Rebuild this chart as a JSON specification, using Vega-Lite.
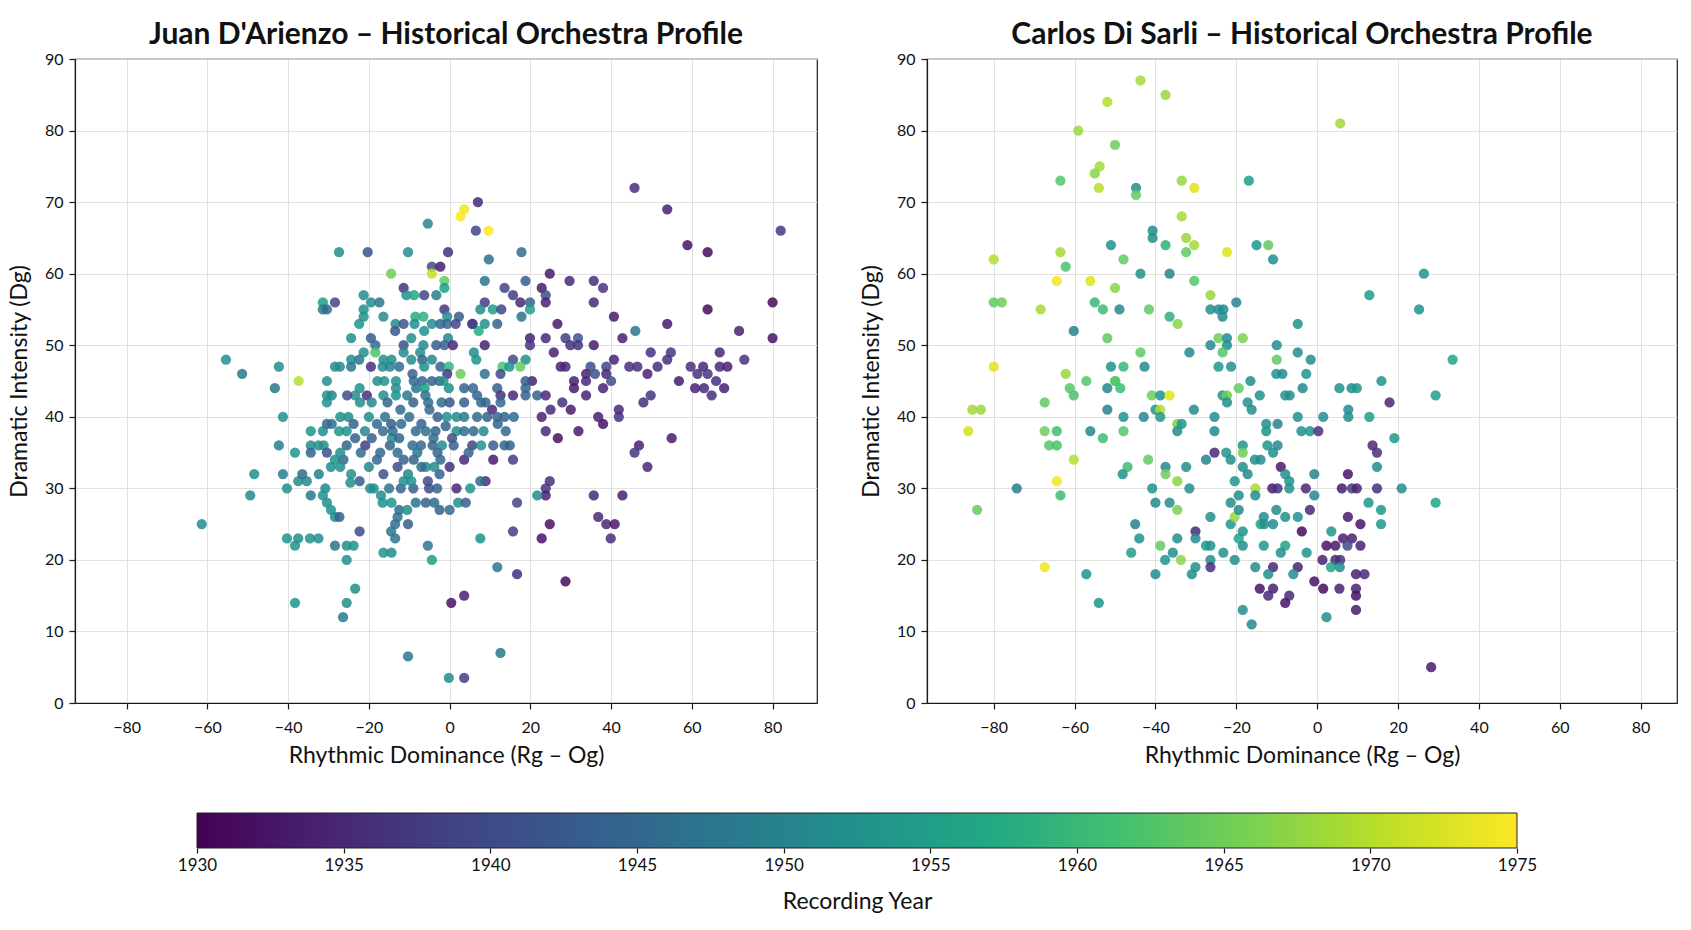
{
  "$schema": "https://vega.github.io/schema/vega-lite/v6.json",
  "background": "white",
  "padding": {"left": 7, "top": 19, "right": 5, "bottom": 5},
  "columns": 2,
  "bounds": "flush",
  "spacing": 110,
  "config": {
    "font": "Lato",
    "view": {"stroke": "#1a1a1a", "strokeWidth": 1.2},
    "axis": {
      "grid": true,
      "gridColor": "#dedede",
      "gridWidth": 0.9,
      "domainColor": "#1a1a1a",
      "domainWidth": 1.2,
      "tickColor": "#1a1a1a",
      "tickSize": 6,
      "tickWidth": 1.2,
      "labelFontSize": 16,
      "labelColor": "#111111",
      "labelPadding": 6,
      "titleFontSize": 23,
      "titleFontWeight": "normal",
      "titleColor": "#111111"
    },
    "axisY": {"titlePadding": 13},
    "axisX": {"titlePadding": 9, "labelPadding": 10},
    "title": {"fontSize": 30, "fontWeight": "bold", "color": "#111111", "offset": 1}
  },
  "datasets": {
    "dArienzo": [
      {"rg_og": 7, "dg": 70, "year": 1935}, {"rg_og": 3.6, "dg": 69, "year": 1974}, {"rg_og": 2.7, "dg": 68, "year": 1975},
      {"rg_og": -5.4, "dg": 67, "year": 1951}, {"rg_og": 6.5, "dg": 66, "year": 1939}, {"rg_og": 9.6, "dg": 66, "year": 1975},
      {"rg_og": -27.4, "dg": 63, "year": 1952}, {"rg_og": -20.3, "dg": 63, "year": 1942}, {"rg_og": -10.3, "dg": 63, "year": 1952},
      {"rg_og": -0.4, "dg": 63, "year": 1936}, {"rg_og": -4.4, "dg": 61, "year": 1940}, {"rg_og": -2.3, "dg": 61, "year": 1933},
      {"rg_og": -14.5, "dg": 60, "year": 1965}, {"rg_og": -4.4, "dg": 60, "year": 1971}, {"rg_og": -1.3, "dg": 59, "year": 1964},
      {"rg_og": -1.3, "dg": 58, "year": 1955}, {"rg_og": -11.4, "dg": 58, "year": 1936}, {"rg_og": -21.3, "dg": 57, "year": 1952},
      {"rg_og": -10.7, "dg": 57, "year": 1953}, {"rg_og": -8.8, "dg": 57, "year": 1957}, {"rg_og": -6.3, "dg": 57, "year": 1939},
      {"rg_og": -3.3, "dg": 57, "year": 1949}, {"rg_og": -31.4, "dg": 56, "year": 1955}, {"rg_og": -28.4, "dg": 56, "year": 1939},
      {"rg_og": -19.5, "dg": 56, "year": 1952}, {"rg_og": -17.4, "dg": 56, "year": 1947}, {"rg_og": -31.4, "dg": 55, "year": 1948},
      {"rg_og": -30.4, "dg": 55, "year": 1946}, {"rg_og": -21.3, "dg": 55, "year": 1952}, {"rg_og": -1.3, "dg": 55, "year": 1937},
      {"rg_og": -16.4, "dg": 54, "year": 1952}, {"rg_og": -21.3, "dg": 54, "year": 1953}, {"rg_og": -8.5, "dg": 54, "year": 1958},
      {"rg_og": -6.5, "dg": 54, "year": 1959}, {"rg_og": -0.6, "dg": 54, "year": 1951}, {"rg_og": 2.3, "dg": 54, "year": 1943},
      {"rg_og": -22.4, "dg": 53, "year": 1953}, {"rg_og": -13.4, "dg": 53, "year": 1951}, {"rg_og": -11.4, "dg": 53, "year": 1942},
      {"rg_og": -8.7, "dg": 53, "year": 1952}, {"rg_og": -4.4, "dg": 53, "year": 1952}, {"rg_og": -2.3, "dg": 53, "year": 1944},
      {"rg_og": -0.6, "dg": 53, "year": 1945}, {"rg_og": 1.5, "dg": 53, "year": 1939}, {"rg_og": 5.6, "dg": 53, "year": 1936},
      {"rg_og": 7.2, "dg": 52, "year": 1958}, {"rg_og": -13.5, "dg": 52, "year": 1942}, {"rg_og": -6.3, "dg": 52, "year": 1952},
      {"rg_og": -24.4, "dg": 51, "year": 1952}, {"rg_og": -19.5, "dg": 51, "year": 1943}, {"rg_og": -9.5, "dg": 51, "year": 1952},
      {"rg_og": -0.4, "dg": 51, "year": 1951}, {"rg_og": -18.4, "dg": 50, "year": 1946}, {"rg_og": -11.4, "dg": 50, "year": 1941},
      {"rg_og": -6.5, "dg": 50, "year": 1951}, {"rg_og": -3.3, "dg": 50, "year": 1943}, {"rg_og": -1.3, "dg": 50, "year": 1944},
      {"rg_og": 0.8, "dg": 50, "year": 1935}, {"rg_og": -21.3, "dg": 49, "year": 1952}, {"rg_og": -18.4, "dg": 49, "year": 1962},
      {"rg_og": -11.4, "dg": 49, "year": 1951}, {"rg_og": -7.3, "dg": 49, "year": 1952}, {"rg_og": 6, "dg": 49, "year": 1952},
      {"rg_og": -55.4, "dg": 48, "year": 1952}, {"rg_og": -24.4, "dg": 48, "year": 1952}, {"rg_og": -22.4, "dg": 48, "year": 1948},
      {"rg_og": -16.4, "dg": 48, "year": 1953}, {"rg_og": -14.4, "dg": 48, "year": 1952}, {"rg_og": -9.5, "dg": 48, "year": 1952},
      {"rg_og": -6.8, "dg": 48, "year": 1944}, {"rg_og": -4.4, "dg": 48, "year": 1951}, {"rg_og": 6.6, "dg": 48, "year": 1953},
      {"rg_og": -42.3, "dg": 47, "year": 1952}, {"rg_og": -51.4, "dg": 46, "year": 1948}, {"rg_og": -28.4, "dg": 47, "year": 1952},
      {"rg_og": -27.2, "dg": 47, "year": 1951}, {"rg_og": -24.4, "dg": 47, "year": 1948}, {"rg_og": -19.5, "dg": 47, "year": 1936},
      {"rg_og": -16.6, "dg": 47, "year": 1951}, {"rg_og": -14.8, "dg": 47, "year": 1950}, {"rg_og": -12.5, "dg": 47, "year": 1946},
      {"rg_og": -6.3, "dg": 47, "year": 1952}, {"rg_og": -2.3, "dg": 47, "year": 1944}, {"rg_og": -0.2, "dg": 47, "year": 1960},
      {"rg_og": 2.7, "dg": 46, "year": 1965}, {"rg_og": -0.6, "dg": 46, "year": 1937}, {"rg_og": -37.4, "dg": 45, "year": 1970},
      {"rg_og": -30.4, "dg": 45, "year": 1952}, {"rg_og": -43.3, "dg": 44, "year": 1948}, {"rg_og": -9.2, "dg": 46, "year": 1944},
      {"rg_og": -17.9, "dg": 45, "year": 1952}, {"rg_og": -16.2, "dg": 45, "year": 1953}, {"rg_og": -13.3, "dg": 45, "year": 1952},
      {"rg_og": -8.9, "dg": 45, "year": 1945}, {"rg_og": -6.8, "dg": 45, "year": 1944}, {"rg_og": -4.4, "dg": 45, "year": 1944},
      {"rg_og": -2.6, "dg": 45, "year": 1945}, {"rg_og": -20.5, "dg": 43, "year": 1936}, {"rg_og": -23.4, "dg": 43, "year": 1952},
      {"rg_og": -16.4, "dg": 43, "year": 1952}, {"rg_og": -13.3, "dg": 44, "year": 1952}, {"rg_og": -13.3, "dg": 43, "year": 1953},
      {"rg_og": -10.5, "dg": 43, "year": 1948}, {"rg_og": -8.3, "dg": 44, "year": 1947}, {"rg_og": -6.2, "dg": 44, "year": 1955},
      {"rg_og": -27.1, "dg": 40, "year": 1952}, {"rg_og": -25.1, "dg": 40, "year": 1951}, {"rg_og": -22.2, "dg": 42, "year": 1952},
      {"rg_og": -19.3, "dg": 42, "year": 1951}, {"rg_og": -15.4, "dg": 42, "year": 1944}, {"rg_og": -12.2, "dg": 41, "year": 1945},
      {"rg_og": -9, "dg": 42, "year": 1944}, {"rg_og": -5.3, "dg": 42, "year": 1945},
      {"rg_og": 45.8, "dg": 72, "year": 1936}, {"rg_og": 53.9, "dg": 69, "year": 1934}, {"rg_og": 82, "dg": 66, "year": 1937},
      {"rg_og": 58.9, "dg": 64, "year": 1932}, {"rg_og": 63.9, "dg": 63, "year": 1931}, {"rg_og": 9.7, "dg": 62, "year": 1947},
      {"rg_og": 17.8, "dg": 63, "year": 1946}, {"rg_og": 24.8, "dg": 60, "year": 1933}, {"rg_og": 29.7, "dg": 59, "year": 1935},
      {"rg_og": 35.7, "dg": 59, "year": 1936}, {"rg_og": 38, "dg": 58, "year": 1937}, {"rg_og": 8.7, "dg": 59, "year": 1948},
      {"rg_og": 18.8, "dg": 59, "year": 1943}, {"rg_og": 13.6, "dg": 58, "year": 1939}, {"rg_og": 22.8, "dg": 58, "year": 1933},
      {"rg_og": 15.7, "dg": 57, "year": 1938}, {"rg_og": 23.8, "dg": 57, "year": 1940}, {"rg_og": 17.5, "dg": 56, "year": 1935},
      {"rg_og": 19.9, "dg": 56, "year": 1944}, {"rg_og": 23.8, "dg": 56, "year": 1934}, {"rg_og": 35.7, "dg": 56, "year": 1935},
      {"rg_og": 8.7, "dg": 56, "year": 1938}, {"rg_og": 7.6, "dg": 55, "year": 1952}, {"rg_og": 10.7, "dg": 55, "year": 1955},
      {"rg_og": 12.8, "dg": 55, "year": 1939}, {"rg_og": 19.9, "dg": 55, "year": 1955}, {"rg_og": 63.9, "dg": 55, "year": 1931},
      {"rg_og": 80, "dg": 56, "year": 1931}, {"rg_og": 40.7, "dg": 54, "year": 1933}, {"rg_og": 17.8, "dg": 54, "year": 1947},
      {"rg_og": 5.7, "dg": 53, "year": 1939}, {"rg_og": 8.7, "dg": 53, "year": 1952}, {"rg_og": 11.8, "dg": 53, "year": 1944},
      {"rg_og": 26.7, "dg": 53, "year": 1933}, {"rg_og": 53.9, "dg": 53, "year": 1933}, {"rg_og": 46, "dg": 52, "year": 1948},
      {"rg_og": 71.7, "dg": 52, "year": 1934}, {"rg_og": 80, "dg": 51, "year": 1932}, {"rg_og": 19.9, "dg": 51, "year": 1934},
      {"rg_og": 23.8, "dg": 51, "year": 1935}, {"rg_og": 28.7, "dg": 51, "year": 1938}, {"rg_og": 31.8, "dg": 51, "year": 1942},
      {"rg_og": 42.8, "dg": 51, "year": 1934}, {"rg_og": 8.7, "dg": 50, "year": 1934}, {"rg_og": 19.9, "dg": 50, "year": 1937},
      {"rg_og": 29.9, "dg": 50, "year": 1936}, {"rg_og": 31.8, "dg": 50, "year": 1937}, {"rg_og": 35.7, "dg": 50, "year": 1933},
      {"rg_og": 25.8, "dg": 49, "year": 1934}, {"rg_og": 49.8, "dg": 49, "year": 1936}, {"rg_og": 54.8, "dg": 49, "year": 1937},
      {"rg_og": 66.9, "dg": 49, "year": 1935}, {"rg_og": 15.7, "dg": 48, "year": 1940}, {"rg_og": 18.8, "dg": 48, "year": 1953},
      {"rg_og": 40.7, "dg": 48, "year": 1934}, {"rg_og": 53.9, "dg": 48, "year": 1936}, {"rg_og": 73, "dg": 48, "year": 1936},
      {"rg_og": 13.1, "dg": 47, "year": 1962}, {"rg_og": 17.5, "dg": 47, "year": 1964}, {"rg_og": 14.8, "dg": 47, "year": 1953},
      {"rg_og": 27.5, "dg": 47, "year": 1934}, {"rg_og": 28.7, "dg": 47, "year": 1935}, {"rg_og": 34.9, "dg": 47, "year": 1941},
      {"rg_og": 38.8, "dg": 47, "year": 1939}, {"rg_og": 44.5, "dg": 47, "year": 1936}, {"rg_og": 46.5, "dg": 47, "year": 1936},
      {"rg_og": 51.5, "dg": 47, "year": 1936}, {"rg_og": 59.7, "dg": 47, "year": 1936}, {"rg_og": 62.8, "dg": 47, "year": 1935},
      {"rg_og": 66.9, "dg": 47, "year": 1935}, {"rg_og": 68.8, "dg": 47, "year": 1934}, {"rg_og": 8.7, "dg": 46, "year": 1947},
      {"rg_og": 12.6, "dg": 46, "year": 1940}, {"rg_og": 33.8, "dg": 46, "year": 1934}, {"rg_og": 36, "dg": 46, "year": 1941},
      {"rg_og": 38.8, "dg": 46, "year": 1935}, {"rg_og": 49, "dg": 46, "year": 1934}, {"rg_og": 61.4, "dg": 46, "year": 1936},
      {"rg_og": 63.9, "dg": 46, "year": 1937}, {"rg_og": 66, "dg": 45, "year": 1936}, {"rg_og": 56.8, "dg": 45, "year": 1933},
      {"rg_og": 60.8, "dg": 44, "year": 1934}, {"rg_og": 63, "dg": 44, "year": 1935}, {"rg_og": 68, "dg": 44, "year": 1934},
      {"rg_og": 64.9, "dg": 43, "year": 1936}, {"rg_og": 30.8, "dg": 45, "year": 1934}, {"rg_og": 33.8, "dg": 45, "year": 1935},
      {"rg_og": 30.8, "dg": 44, "year": 1933}, {"rg_og": 33.8, "dg": 43, "year": 1934}, {"rg_og": 38, "dg": 44, "year": 1934},
      {"rg_og": 40, "dg": 45, "year": 1940}, {"rg_og": 20.4, "dg": 45, "year": 1934}, {"rg_og": 18.8, "dg": 45, "year": 1943},
      {"rg_og": 21.7, "dg": 43, "year": 1944}, {"rg_og": 23.8, "dg": 43, "year": 1935}, {"rg_og": 15.7, "dg": 43, "year": 1935},
      {"rg_og": 18.8, "dg": 43, "year": 1944}, {"rg_og": 48, "dg": 42, "year": 1936}, {"rg_og": 49.8, "dg": 43, "year": 1937},
      {"rg_og": 27.9, "dg": 42, "year": 1936}, {"rg_og": 30, "dg": 41, "year": 1933}, {"rg_og": 25, "dg": 41, "year": 1935},
      {"rg_og": 22.8, "dg": 40, "year": 1934}, {"rg_og": 41.9, "dg": 41, "year": 1935}, {"rg_og": 41.9, "dg": 40, "year": 1936},
      {"rg_og": 36.8, "dg": 40, "year": 1934}, {"rg_og": 38, "dg": 39, "year": 1932}, {"rg_og": 23.8, "dg": 38, "year": 1935},
      {"rg_og": 26.8, "dg": 37, "year": 1932}, {"rg_og": 31.9, "dg": 38, "year": 1933}, {"rg_og": 55, "dg": 37, "year": 1933},
      {"rg_og": 46.9, "dg": 36, "year": 1934}, {"rg_og": 45.8, "dg": 35, "year": 1937}, {"rg_og": 49, "dg": 33, "year": 1935},
      {"rg_og": 10.8, "dg": 34, "year": 1933}, {"rg_og": 15.7, "dg": 34, "year": 1938}, {"rg_og": 3.6, "dg": 34, "year": 1935},
      {"rg_og": 5.6, "dg": 36, "year": 1939}, {"rg_og": 7.8, "dg": 36, "year": 1953}, {"rg_og": 10.8, "dg": 36, "year": 1943},
      {"rg_og": 13.6, "dg": 36, "year": 1944}, {"rg_og": 14.9, "dg": 36, "year": 1944}, {"rg_og": 8.9, "dg": 31, "year": 1936},
      {"rg_og": 7.6, "dg": 31, "year": 1945}, {"rg_og": 24.8, "dg": 31, "year": 1936}, {"rg_og": 23.8, "dg": 30, "year": 1937},
      {"rg_og": 23.8, "dg": 29, "year": 1934}, {"rg_og": 21.7, "dg": 29, "year": 1952}, {"rg_og": 35.7, "dg": 29, "year": 1935},
      {"rg_og": 42.8, "dg": 29, "year": 1934}, {"rg_og": 1.7, "dg": 30, "year": 1935}, {"rg_og": 5.1, "dg": 30, "year": 1953},
      {"rg_og": 16.7, "dg": 28, "year": 1939}, {"rg_og": 36.8, "dg": 26, "year": 1935}, {"rg_og": 38.8, "dg": 25, "year": 1935},
      {"rg_og": 40.9, "dg": 25, "year": 1933}, {"rg_og": 39.9, "dg": 23, "year": 1936}, {"rg_og": 24.8, "dg": 25, "year": 1932},
      {"rg_og": 22.8, "dg": 23, "year": 1932}, {"rg_og": 15.7, "dg": 24, "year": 1938}, {"rg_og": 7.6, "dg": 23, "year": 1953},
      {"rg_og": 11.8, "dg": 19, "year": 1948}, {"rg_og": 16.7, "dg": 18, "year": 1936}, {"rg_og": 28.7, "dg": 17, "year": 1931},
      {"rg_og": 3.6, "dg": 15, "year": 1934}, {"rg_og": 0.4, "dg": 14, "year": 1932}, {"rg_og": 12.6, "dg": 7, "year": 1948},
      {"rg_og": -0.2, "dg": 3.5, "year": 1952}, {"rg_og": 3.6, "dg": 3.5, "year": 1938}, {"rg_og": 18.8, "dg": 44, "year": 1944},
      {"rg_og": -30.4, "dg": 43, "year": 1952}, {"rg_og": -29.2, "dg": 43, "year": 1951}, {"rg_og": -30.4, "dg": 42, "year": 1953},
      {"rg_og": -25.4, "dg": 43, "year": 1940}, {"rg_og": -22.3, "dg": 44, "year": 1952}, {"rg_og": -41.3, "dg": 40, "year": 1952},
      {"rg_og": -34.4, "dg": 38, "year": 1953}, {"rg_og": -31.4, "dg": 38, "year": 1952}, {"rg_og": -30.4, "dg": 39, "year": 1945},
      {"rg_og": -29.2, "dg": 39, "year": 1946}, {"rg_og": -27.4, "dg": 38, "year": 1953}, {"rg_og": -23.8, "dg": 39, "year": 1944},
      {"rg_og": -42.3, "dg": 36, "year": 1949}, {"rg_og": -38.3, "dg": 35, "year": 1953}, {"rg_og": -34.4, "dg": 36, "year": 1952},
      {"rg_og": -32.5, "dg": 36, "year": 1953}, {"rg_og": -31.2, "dg": 36, "year": 1952}, {"rg_og": -34.4, "dg": 35, "year": 1944},
      {"rg_og": -30.4, "dg": 35, "year": 1941}, {"rg_og": -28.4, "dg": 34, "year": 1953}, {"rg_og": -26.3, "dg": 34, "year": 1945},
      {"rg_og": -29.4, "dg": 33, "year": 1952}, {"rg_og": -27.1, "dg": 33, "year": 1952}, {"rg_og": -48.4, "dg": 32, "year": 1952},
      {"rg_og": -41.3, "dg": 32, "year": 1949}, {"rg_og": -37.5, "dg": 31, "year": 1952}, {"rg_og": -35.4, "dg": 31, "year": 1951},
      {"rg_og": -36.5, "dg": 32, "year": 1946}, {"rg_og": -32.4, "dg": 32, "year": 1949}, {"rg_og": -24.4, "dg": 32, "year": 1952},
      {"rg_og": -22.3, "dg": 31, "year": 1943}, {"rg_og": -24.6, "dg": 30.8, "year": 1952}, {"rg_og": -49.4, "dg": 29, "year": 1951},
      {"rg_og": -40.3, "dg": 30, "year": 1952}, {"rg_og": -34.4, "dg": 29, "year": 1948}, {"rg_og": -30.8, "dg": 30, "year": 1951},
      {"rg_og": -31.4, "dg": 29, "year": 1953}, {"rg_og": -30.4, "dg": 28, "year": 1952}, {"rg_og": -29.4, "dg": 27, "year": 1953},
      {"rg_og": -28.4, "dg": 26, "year": 1952}, {"rg_og": -27.3, "dg": 26, "year": 1944}, {"rg_og": -61.4, "dg": 25, "year": 1952},
      {"rg_og": -40.3, "dg": 23, "year": 1953}, {"rg_og": -38.3, "dg": 22, "year": 1953}, {"rg_og": -37.5, "dg": 23, "year": 1952},
      {"rg_og": -34.6, "dg": 23, "year": 1953}, {"rg_og": -32.5, "dg": 23, "year": 1952}, {"rg_og": -28.4, "dg": 22, "year": 1947},
      {"rg_og": -25.5, "dg": 22, "year": 1952}, {"rg_og": -23.8, "dg": 22, "year": 1953}, {"rg_og": -22.3, "dg": 24, "year": 1940},
      {"rg_og": -25.5, "dg": 20, "year": 1952}, {"rg_og": -23.4, "dg": 16, "year": 1952}, {"rg_og": -38.3, "dg": 14, "year": 1953},
      {"rg_og": -25.5, "dg": 14, "year": 1952}, {"rg_og": -26.4, "dg": 12, "year": 1948}, {"rg_og": -10.3, "dg": 6.5, "year": 1948},
      {"rg_og": -16.4, "dg": 21, "year": 1953}, {"rg_og": -14.4, "dg": 21, "year": 1952}, {"rg_og": -5.4, "dg": 22, "year": 1948},
      {"rg_og": -4.4, "dg": 20, "year": 1955}, {"rg_og": -16.6, "dg": 28, "year": 1952}, {"rg_og": -14.4, "dg": 28, "year": 1953},
      {"rg_og": -12.5, "dg": 27, "year": 1946}, {"rg_og": -10.5, "dg": 27, "year": 1952}, {"rg_og": -8.4, "dg": 28, "year": 1947},
      {"rg_og": -5.9, "dg": 28, "year": 1944}, {"rg_og": -3.8, "dg": 28, "year": 1945}, {"rg_og": -12.9, "dg": 26, "year": 1947},
      {"rg_og": -13.5, "dg": 25, "year": 1946}, {"rg_og": -14.5, "dg": 24, "year": 1948}, {"rg_og": -13.5, "dg": 23, "year": 1947},
      {"rg_og": -10.3, "dg": 25, "year": 1943}, {"rg_og": -2.5, "dg": 27, "year": 1944}, {"rg_og": 0, "dg": 27, "year": 1945},
      {"rg_og": 2.1, "dg": 28, "year": 1952}, {"rg_og": 4, "dg": 28, "year": 1944}, {"rg_og": -19.7, "dg": 30, "year": 1952},
      {"rg_og": -12.1, "dg": 30, "year": 1944}, {"rg_og": -9, "dg": 30, "year": 1943}, {"rg_og": -5.1, "dg": 30, "year": 1940},
      {"rg_og": -3.1, "dg": 30, "year": 1944}, {"rg_og": -16.4, "dg": 32, "year": 1941}, {"rg_og": -11.4, "dg": 31, "year": 1952},
      {"rg_og": -10.3, "dg": 32, "year": 1951}, {"rg_og": -9.5, "dg": 31, "year": 1953}, {"rg_og": -5.4, "dg": 31, "year": 1940},
      {"rg_og": -2.5, "dg": 32, "year": 1944}, {"rg_og": 0, "dg": 33, "year": 1936}, {"rg_og": -11.4, "dg": 34, "year": 1944},
      {"rg_og": -5.9, "dg": 33, "year": 1952}, {"rg_og": -3.8, "dg": 33, "year": 1952}, {"rg_og": -12.9, "dg": 33, "year": 1940},
      {"rg_og": -18.8, "dg": 30, "year": 1952}, {"rg_og": -17.2, "dg": 35, "year": 1945}, {"rg_og": -14.8, "dg": 36, "year": 1944},
      {"rg_og": -12.9, "dg": 35, "year": 1946}, {"rg_og": -14.3, "dg": 37, "year": 1952}, {"rg_og": -8.9, "dg": 34, "year": 1944},
      {"rg_og": -20.9, "dg": 36, "year": 1938}, {"rg_og": -19.3, "dg": 37, "year": 1944}, {"rg_og": -16.5, "dg": 38, "year": 1945},
      {"rg_og": -14.1, "dg": 38, "year": 1946}, {"rg_og": -12.5, "dg": 37, "year": 1944}, {"rg_og": -14.5, "dg": 39, "year": 1943},
      {"rg_og": -8.4, "dg": 38, "year": 1945}, {"rg_og": -5.9, "dg": 38, "year": 1946}, {"rg_og": -3.5, "dg": 38, "year": 1944},
      {"rg_og": -7.1, "dg": 36, "year": 1945}, {"rg_og": -4.2, "dg": 36, "year": 1944}, {"rg_og": -9.2, "dg": 36, "year": 1946},
      {"rg_og": -23.4, "dg": 37, "year": 1944}, {"rg_og": -25.5, "dg": 38, "year": 1953}, {"rg_og": -27.1, "dg": 35, "year": 1952},
      {"rg_og": -25.5, "dg": 36, "year": 1944}, {"rg_og": -0.2, "dg": 44, "year": 1952}, {"rg_og": 3.6, "dg": 44, "year": 1944},
      {"rg_og": 5.8, "dg": 44, "year": 1945}, {"rg_og": -1.5, "dg": 45, "year": 1952}, {"rg_og": 11.8, "dg": 44, "year": 1944},
      {"rg_og": 12.6, "dg": 43, "year": 1936}, {"rg_og": 3.6, "dg": 42, "year": 1943}, {"rg_og": 6.8, "dg": 43, "year": 1944},
      {"rg_og": 7.8, "dg": 42, "year": 1945}, {"rg_og": 10.5, "dg": 41, "year": 1935}, {"rg_og": 12.6, "dg": 42, "year": 1945},
      {"rg_og": -0.7, "dg": 40, "year": 1952}, {"rg_og": 1.7, "dg": 40, "year": 1951}, {"rg_og": 3.6, "dg": 40, "year": 1948},
      {"rg_og": 6.8, "dg": 40, "year": 1945}, {"rg_og": 9.3, "dg": 40, "year": 1944}, {"rg_og": 11.8, "dg": 40, "year": 1945},
      {"rg_og": 13.6, "dg": 40, "year": 1944}, {"rg_og": 15.9, "dg": 40, "year": 1946}, {"rg_og": -1, "dg": 38.7, "year": 1944},
      {"rg_og": 1.7, "dg": 38, "year": 1952}, {"rg_og": 3.6, "dg": 38, "year": 1946}, {"rg_og": 5.9, "dg": 38, "year": 1945},
      {"rg_og": 8.4, "dg": 38, "year": 1951}, {"rg_og": 11.9, "dg": 39, "year": 1944}, {"rg_og": 13.9, "dg": 38, "year": 1945},
      {"rg_og": 0.6, "dg": 37, "year": 1940}, {"rg_og": -1.9, "dg": 36, "year": 1952}, {"rg_og": 4.7, "dg": 35, "year": 1944},
      {"rg_og": -2.3, "dg": 34, "year": 1945}, {"rg_og": 8.9, "dg": 42, "year": 1945}, {"rg_og": -3, "dg": 40, "year": 1943},
      {"rg_og": -5, "dg": 41, "year": 1945}, {"rg_og": -7, "dg": 39, "year": 1944}, {"rg_og": -10, "dg": 40, "year": 1946},
      {"rg_og": -12, "dg": 39, "year": 1945}, {"rg_og": -2, "dg": 42, "year": 1946}, {"rg_og": 0, "dg": 42, "year": 1942},
      {"rg_og": -6, "dg": 43, "year": 1947}, {"rg_og": -4, "dg": 37, "year": 1946}, {"rg_og": -16, "dg": 40, "year": 1947},
      {"rg_og": -18, "dg": 39, "year": 1945}, {"rg_og": -20, "dg": 40, "year": 1952}, {"rg_og": -21, "dg": 38, "year": 1951},
      {"rg_og": -18, "dg": 34, "year": 1945}, {"rg_og": -20, "dg": 33, "year": 1951}, {"rg_og": -7, "dg": 33, "year": 1945},
      {"rg_og": -8, "dg": 35, "year": 1947}, {"rg_og": -3, "dg": 35, "year": 1944}, {"rg_og": 1, "dg": 36, "year": 1944},
      {"rg_og": -15, "dg": 30, "year": 1947}, {"rg_og": -17, "dg": 29, "year": 1952}, {"rg_og": -22, "dg": 35, "year": 1946}
    ],
    "diSarli": [
      {"rg_og": -43.7, "dg": 87, "year": 1969}, {"rg_og": -37.5, "dg": 85, "year": 1968}, {"rg_og": -51.9, "dg": 84, "year": 1970},
      {"rg_og": -59.1, "dg": 80, "year": 1968}, {"rg_og": -50, "dg": 78, "year": 1965}, {"rg_og": -53.8, "dg": 75, "year": 1969},
      {"rg_og": -55, "dg": 74, "year": 1967}, {"rg_og": -54, "dg": 72, "year": 1970}, {"rg_og": -63.5, "dg": 73, "year": 1963},
      {"rg_og": -44.8, "dg": 72, "year": 1952}, {"rg_og": -44.8, "dg": 71, "year": 1964}, {"rg_og": -33.5, "dg": 73, "year": 1968},
      {"rg_og": -30.4, "dg": 72, "year": 1973}, {"rg_og": -33.5, "dg": 68, "year": 1969}, {"rg_og": -40.7, "dg": 66, "year": 1952},
      {"rg_og": -40.7, "dg": 65, "year": 1952}, {"rg_og": -37.5, "dg": 64, "year": 1959}, {"rg_og": -32.4, "dg": 65, "year": 1968},
      {"rg_og": -30.4, "dg": 64, "year": 1969}, {"rg_og": -32.4, "dg": 63, "year": 1964}, {"rg_og": -22.3, "dg": 63, "year": 1973},
      {"rg_og": -51, "dg": 64, "year": 1953}, {"rg_og": -80, "dg": 62, "year": 1970}, {"rg_og": -63.5, "dg": 63, "year": 1969},
      {"rg_og": -62.2, "dg": 61, "year": 1962}, {"rg_og": -47.9, "dg": 62, "year": 1964}, {"rg_og": -43.7, "dg": 60, "year": 1953},
      {"rg_og": -36.5, "dg": 60, "year": 1950}, {"rg_og": -64.4, "dg": 59, "year": 1974}, {"rg_og": -56.1, "dg": 59, "year": 1973},
      {"rg_og": -30.4, "dg": 59, "year": 1963}, {"rg_og": -50, "dg": 58, "year": 1967}, {"rg_og": -80, "dg": 56, "year": 1964},
      {"rg_og": -78, "dg": 56, "year": 1965}, {"rg_og": -68.4, "dg": 55, "year": 1969}, {"rg_og": -55, "dg": 56, "year": 1960},
      {"rg_og": -53, "dg": 55, "year": 1961}, {"rg_og": -48.9, "dg": 55, "year": 1951}, {"rg_og": -41.6, "dg": 55, "year": 1964},
      {"rg_og": -36.5, "dg": 54, "year": 1959}, {"rg_og": -34.5, "dg": 53, "year": 1967}, {"rg_og": -26.4, "dg": 57, "year": 1968},
      {"rg_og": -26.4, "dg": 55, "year": 1952}, {"rg_og": -24.4, "dg": 55, "year": 1952}, {"rg_og": -23.2, "dg": 55, "year": 1952},
      {"rg_og": -23.4, "dg": 54, "year": 1951}, {"rg_og": -20, "dg": 56, "year": 1950}, {"rg_og": -60.2, "dg": 52, "year": 1950},
      {"rg_og": -51.9, "dg": 51, "year": 1964}, {"rg_og": -24.4, "dg": 51, "year": 1965}, {"rg_og": -22.3, "dg": 51, "year": 1952},
      {"rg_og": -22.3, "dg": 50, "year": 1952}, {"rg_og": -18.4, "dg": 51, "year": 1966}, {"rg_og": -26.4, "dg": 50, "year": 1951},
      {"rg_og": -23.4, "dg": 49, "year": 1963}, {"rg_og": -31.6, "dg": 49, "year": 1951}, {"rg_og": -43.7, "dg": 49, "year": 1964},
      {"rg_og": -80, "dg": 47, "year": 1973}, {"rg_og": -51, "dg": 47, "year": 1953}, {"rg_og": -47.9, "dg": 47, "year": 1960},
      {"rg_og": -42.7, "dg": 47, "year": 1951}, {"rg_og": -24.4, "dg": 47, "year": 1954}, {"rg_og": -21.3, "dg": 47, "year": 1952},
      {"rg_og": -62.2, "dg": 46, "year": 1968}, {"rg_og": -57.1, "dg": 45, "year": 1963}, {"rg_og": -50, "dg": 45, "year": 1963},
      {"rg_og": -16.5, "dg": 45, "year": 1952}, {"rg_og": 5.7, "dg": 81, "year": 1969}, {"rg_og": -16.9, "dg": 73, "year": 1955},
      {"rg_og": -15, "dg": 64, "year": 1954}, {"rg_og": -12.1, "dg": 64, "year": 1964}, {"rg_og": -10.9, "dg": 62, "year": 1952},
      {"rg_og": 26.4, "dg": 60, "year": 1953}, {"rg_og": 12.9, "dg": 57, "year": 1955}, {"rg_og": 25.2, "dg": 55, "year": 1953},
      {"rg_og": -4.8, "dg": 53, "year": 1953}, {"rg_og": -10, "dg": 50, "year": 1952}, {"rg_og": -4.8, "dg": 49, "year": 1952},
      {"rg_og": -1.6, "dg": 48, "year": 1952}, {"rg_og": -10, "dg": 48, "year": 1964}, {"rg_og": 33.5, "dg": 48, "year": 1956},
      {"rg_og": -10.1, "dg": 46, "year": 1953}, {"rg_og": -8.6, "dg": 46, "year": 1952}, {"rg_og": -2.7, "dg": 46, "year": 1953},
      {"rg_og": 15.9, "dg": 45, "year": 1953}, {"rg_og": -85.3, "dg": 41, "year": 1969}, {"rg_og": -83.2, "dg": 41, "year": 1968},
      {"rg_og": -86.3, "dg": 38, "year": 1972}, {"rg_og": -84.1, "dg": 27, "year": 1964}, {"rg_og": -74.3, "dg": 30, "year": 1949},
      {"rg_og": -61.2, "dg": 44, "year": 1963}, {"rg_og": -60.2, "dg": 43, "year": 1962}, {"rg_og": -67.4, "dg": 42, "year": 1964},
      {"rg_og": -67.4, "dg": 38, "year": 1965}, {"rg_og": -64.4, "dg": 38, "year": 1961}, {"rg_og": -66.3, "dg": 36, "year": 1963},
      {"rg_og": -64.4, "dg": 36, "year": 1962}, {"rg_og": -60.2, "dg": 34, "year": 1970}, {"rg_og": -64.4, "dg": 31, "year": 1974},
      {"rg_og": -63.5, "dg": 29, "year": 1961}, {"rg_og": -67.4, "dg": 19, "year": 1974}, {"rg_og": -57.1, "dg": 18, "year": 1953},
      {"rg_og": -54, "dg": 14, "year": 1953}, {"rg_og": -56.1, "dg": 38, "year": 1951}, {"rg_og": -53, "dg": 37, "year": 1961},
      {"rg_og": -51.9, "dg": 44, "year": 1950}, {"rg_og": -51.9, "dg": 41, "year": 1950}, {"rg_og": -49.9, "dg": 45, "year": 1963},
      {"rg_og": -48.7, "dg": 44, "year": 1961}, {"rg_og": -47.9, "dg": 40, "year": 1953}, {"rg_og": -47.9, "dg": 38, "year": 1963},
      {"rg_og": -42.9, "dg": 40, "year": 1951}, {"rg_og": -40.9, "dg": 43, "year": 1965}, {"rg_og": -38.8, "dg": 43, "year": 1953},
      {"rg_og": -36.5, "dg": 43, "year": 1973}, {"rg_og": -40, "dg": 41, "year": 1953}, {"rg_og": -38.8, "dg": 41, "year": 1970},
      {"rg_og": -38.8, "dg": 40, "year": 1954}, {"rg_og": -41.8, "dg": 34, "year": 1964}, {"rg_og": -46.9, "dg": 33, "year": 1961},
      {"rg_og": -48.1, "dg": 32, "year": 1953}, {"rg_og": -34.6, "dg": 39, "year": 1966}, {"rg_og": -33.5, "dg": 39, "year": 1954},
      {"rg_og": -34.6, "dg": 38, "year": 1952}, {"rg_og": -30.5, "dg": 41, "year": 1951}, {"rg_og": -25.4, "dg": 40, "year": 1952},
      {"rg_og": -25.4, "dg": 38, "year": 1951}, {"rg_og": -25.4, "dg": 35, "year": 1935}, {"rg_og": -27.5, "dg": 34, "year": 1950},
      {"rg_og": -22.5, "dg": 35, "year": 1954}, {"rg_og": -21.4, "dg": 34, "year": 1952}, {"rg_og": -37.5, "dg": 33, "year": 1951},
      {"rg_og": -37.5, "dg": 32, "year": 1965}, {"rg_og": -32.4, "dg": 33, "year": 1952}, {"rg_og": -34.6, "dg": 31, "year": 1967},
      {"rg_og": -40.8, "dg": 30, "year": 1953}, {"rg_og": -31.6, "dg": 30, "year": 1952}, {"rg_og": -40, "dg": 28, "year": 1951},
      {"rg_og": -36.5, "dg": 28, "year": 1952}, {"rg_og": -34.6, "dg": 27, "year": 1966}, {"rg_og": -45, "dg": 25, "year": 1950},
      {"rg_og": -44, "dg": 23, "year": 1953}, {"rg_og": -46, "dg": 21, "year": 1955}, {"rg_og": -38.8, "dg": 22, "year": 1964},
      {"rg_og": -40, "dg": 18, "year": 1952}, {"rg_og": -35.7, "dg": 21, "year": 1952}, {"rg_og": -37.6, "dg": 20, "year": 1954},
      {"rg_og": -33.7, "dg": 20, "year": 1967}, {"rg_og": -34.6, "dg": 23, "year": 1952}, {"rg_og": -30.1, "dg": 24, "year": 1935},
      {"rg_og": -30.1, "dg": 23, "year": 1952}, {"rg_og": -31, "dg": 18, "year": 1952}, {"rg_og": -30.1, "dg": 19, "year": 1952},
      {"rg_og": -27.5, "dg": 22, "year": 1954}, {"rg_og": -26.4, "dg": 22, "year": 1953}, {"rg_og": -26.4, "dg": 26, "year": 1952},
      {"rg_og": -26.4, "dg": 20, "year": 1952}, {"rg_og": -26.4, "dg": 19, "year": 1936}, {"rg_og": -23.2, "dg": 21, "year": 1953},
      {"rg_og": -21.4, "dg": 25, "year": 1954}, {"rg_og": -21.4, "dg": 28, "year": 1952}, {"rg_og": -20.4, "dg": 26, "year": 1968},
      {"rg_og": -19.4, "dg": 27, "year": 1951}, {"rg_og": -20.4, "dg": 31, "year": 1953}, {"rg_og": -19.4, "dg": 29, "year": 1952},
      {"rg_og": -18.4, "dg": 33, "year": 1952}, {"rg_og": -17.2, "dg": 32, "year": 1951}, {"rg_og": -18.4, "dg": 36, "year": 1953},
      {"rg_og": -18.4, "dg": 35, "year": 1965}, {"rg_og": -19.4, "dg": 23, "year": 1956}, {"rg_og": -18.4, "dg": 24, "year": 1953},
      {"rg_og": -18.4, "dg": 22, "year": 1952}, {"rg_og": -20.4, "dg": 20, "year": 1952}, {"rg_og": -15.3, "dg": 30, "year": 1969},
      {"rg_og": -15.3, "dg": 29, "year": 1952}, {"rg_og": -15.4, "dg": 34, "year": 1952}, {"rg_og": -14, "dg": 25, "year": 1956},
      {"rg_og": -13.2, "dg": 26, "year": 1952}, {"rg_og": -13.2, "dg": 22, "year": 1954}, {"rg_og": -15.3, "dg": 19, "year": 1952},
      {"rg_og": -14.2, "dg": 16, "year": 1932}, {"rg_og": -18.4, "dg": 13, "year": 1952}, {"rg_og": -16.2, "dg": 11, "year": 1951},
      {"rg_og": -19.4, "dg": 44, "year": 1964}, {"rg_og": -14.2, "dg": 43, "year": 1952}, {"rg_og": -23.4, "dg": 43, "year": 1953},
      {"rg_og": -22.3, "dg": 43, "year": 1965}, {"rg_og": -22.3, "dg": 42, "year": 1952}, {"rg_og": -17.2, "dg": 42, "year": 1953},
      {"rg_og": -16.2, "dg": 41, "year": 1952}, {"rg_og": -12.6, "dg": 39, "year": 1952}, {"rg_og": -12.6, "dg": 38, "year": 1953},
      {"rg_og": -12.3, "dg": 36, "year": 1953}, {"rg_og": -7.9, "dg": 43, "year": 1953}, {"rg_og": -6.8, "dg": 43, "year": 1952},
      {"rg_og": -3.6, "dg": 44, "year": 1951}, {"rg_og": 5.5, "dg": 44, "year": 1953}, {"rg_og": 8.5, "dg": 44, "year": 1952},
      {"rg_og": 9.8, "dg": 44, "year": 1954}, {"rg_og": 29.3, "dg": 43, "year": 1955}, {"rg_og": 17.9, "dg": 42, "year": 1935},
      {"rg_og": -4.8, "dg": 40, "year": 1953}, {"rg_og": 1.5, "dg": 40, "year": 1952}, {"rg_og": 7.7, "dg": 41, "year": 1951},
      {"rg_og": 7.7, "dg": 40, "year": 1952}, {"rg_og": 12.9, "dg": 40, "year": 1955}, {"rg_og": -9.8, "dg": 39, "year": 1950},
      {"rg_og": -3.9, "dg": 38, "year": 1952}, {"rg_og": -1.8, "dg": 38, "year": 1953}, {"rg_og": 0.3, "dg": 38, "year": 1936},
      {"rg_og": 19.1, "dg": 37, "year": 1954}, {"rg_og": -9.8, "dg": 36, "year": 1951}, {"rg_og": -10.9, "dg": 35, "year": 1952},
      {"rg_og": 13.7, "dg": 36, "year": 1935}, {"rg_og": 14.8, "dg": 35, "year": 1936}, {"rg_og": -14, "dg": 34, "year": 1952},
      {"rg_og": 14.8, "dg": 33, "year": 1952}, {"rg_og": -9, "dg": 33, "year": 1933}, {"rg_og": -7.9, "dg": 32, "year": 1952},
      {"rg_og": -6.9, "dg": 31, "year": 1953}, {"rg_og": -0.7, "dg": 32, "year": 1950}, {"rg_og": 7.6, "dg": 32, "year": 1932},
      {"rg_og": -11.1, "dg": 30, "year": 1933}, {"rg_og": -9.8, "dg": 30, "year": 1936}, {"rg_og": -6.9, "dg": 30, "year": 1953},
      {"rg_og": -2.8, "dg": 30, "year": 1935}, {"rg_og": 6.1, "dg": 30, "year": 1933}, {"rg_og": 8.6, "dg": 30, "year": 1938},
      {"rg_og": 9.8, "dg": 30, "year": 1934}, {"rg_og": 14.8, "dg": 30, "year": 1936}, {"rg_og": 20.9, "dg": 30, "year": 1952},
      {"rg_og": -0.7, "dg": 29, "year": 1951}, {"rg_og": -10.1, "dg": 27, "year": 1951}, {"rg_og": -7.9, "dg": 26, "year": 1952},
      {"rg_og": -1.8, "dg": 27, "year": 1935}, {"rg_og": -13.1, "dg": 25, "year": 1952}, {"rg_og": -10.9, "dg": 25, "year": 1951},
      {"rg_og": -4.8, "dg": 26, "year": 1953}, {"rg_og": 7.6, "dg": 26, "year": 1933}, {"rg_og": 10.7, "dg": 25, "year": 1932},
      {"rg_og": 15.8, "dg": 27, "year": 1954}, {"rg_og": 15.8, "dg": 25, "year": 1954}, {"rg_og": 12.7, "dg": 28, "year": 1953},
      {"rg_og": 29.3, "dg": 28, "year": 1956}, {"rg_og": -3.8, "dg": 24, "year": 1931}, {"rg_og": 3.5, "dg": 24, "year": 1954},
      {"rg_og": 6.4, "dg": 23, "year": 1934}, {"rg_og": 8.6, "dg": 23, "year": 1934}, {"rg_og": -7.9, "dg": 22, "year": 1956},
      {"rg_og": 2.3, "dg": 22, "year": 1932}, {"rg_og": 4.5, "dg": 22, "year": 1933}, {"rg_og": 7.5, "dg": 22, "year": 1940},
      {"rg_og": 10.7, "dg": 22, "year": 1934}, {"rg_og": -9, "dg": 21, "year": 1952}, {"rg_og": -2.6, "dg": 21, "year": 1953},
      {"rg_og": 1.3, "dg": 20, "year": 1934}, {"rg_og": 4.5, "dg": 20, "year": 1935}, {"rg_og": 5.7, "dg": 20, "year": 1936},
      {"rg_og": 3.4, "dg": 19, "year": 1956}, {"rg_og": 5.6, "dg": 19, "year": 1952}, {"rg_og": -10.9, "dg": 19, "year": 1935},
      {"rg_og": -4.8, "dg": 19, "year": 1934}, {"rg_og": -12.1, "dg": 18, "year": 1952}, {"rg_og": -5.9, "dg": 18, "year": 1952},
      {"rg_og": 9.6, "dg": 18, "year": 1934}, {"rg_og": 11.7, "dg": 18, "year": 1935}, {"rg_og": -0.7, "dg": 17, "year": 1932},
      {"rg_og": -10.9, "dg": 16, "year": 1934}, {"rg_og": 1.5, "dg": 16, "year": 1931}, {"rg_og": 5.5, "dg": 16, "year": 1934},
      {"rg_og": 9.6, "dg": 16, "year": 1934}, {"rg_og": -12.1, "dg": 15, "year": 1935}, {"rg_og": -6.9, "dg": 15, "year": 1935},
      {"rg_og": 9.6, "dg": 15, "year": 1932}, {"rg_og": -7.9, "dg": 14, "year": 1932}, {"rg_og": 2.3, "dg": 12, "year": 1952},
      {"rg_og": 9.6, "dg": 13, "year": 1933}, {"rg_og": 28.2, "dg": 5, "year": 1933}
    ]
  },
  "concat": [
    {
      "title": "Juan D'Arienzo – Historical Orchestra Profile",
      "width": 742,
      "height": 644,
      "data": {"name": "dArienzo"},
      "mark": {"type": "circle", "size": 105, "opacity": 0.85},
      "encoding": {
        "x": {"field": "rg_og", "type": "quantitative", "title": "Rhythmic Dominance (Rg – Og)",
              "scale": {"domain": [-92.8, 91], "nice": false, "zero": false},
              "axis": {"values": [-80, -60, -40, -20, 0, 20, 40, 60, 80]}},
        "y": {"field": "dg", "type": "quantitative", "title": "Dramatic Intensity (Dg)",
              "scale": {"domain": [0, 90], "nice": false},
              "axis": {"values": [0, 10, 20, 30, 40, 50, 60, 70, 80, 90]}},
        "color": {"field": "year", "type": "quantitative",
                  "scale": {"scheme": "viridis", "domain": [1930, 1975]}, "legend": null}
      }
    },
    {
      "title": "Carlos Di Sarli – Historical Orchestra Profile",
      "width": 750,
      "height": 644,
      "data": {"name": "diSarli"},
      "mark": {"type": "circle", "size": 105, "opacity": 0.85},
      "encoding": {
        "x": {"field": "rg_og", "type": "quantitative", "title": "Rhythmic Dominance (Rg – Og)",
              "scale": {"domain": [-96.5, 89], "nice": false, "zero": false},
              "axis": {"values": [-80, -60, -40, -20, 0, 20, 40, 60, 80]}},
        "y": {"field": "dg", "type": "quantitative", "title": "Dramatic Intensity (Dg)",
              "scale": {"domain": [0, 90], "nice": false},
              "axis": {"values": [0, 10, 20, 30, 40, 50, 60, 70, 80, 90]}},
        "color": {"field": "year", "type": "quantitative",
                  "scale": {"scheme": "viridis", "domain": [1930, 1975]}, "legend": null}
      }
    },
    {
      "width": 742,
      "height": 35,
      "view": {"stroke": null},
      "data": {"values": [{"from": 1930, "to": 1975}]},
      "mark": {
        "type": "rect",
        "stroke": "#222222",
        "strokeWidth": 1,
        "fill": {
          "gradient": "linear", "x1": 0, "y1": 0, "x2": 1, "y2": 0,
          "stops": [
            {"offset": 0, "color": "#440154"}, {"offset": 0.1, "color": "#482475"},
            {"offset": 0.2, "color": "#414487"}, {"offset": 0.3, "color": "#355f8d"},
            {"offset": 0.4, "color": "#2a788e"}, {"offset": 0.5, "color": "#21918c"},
            {"offset": 0.6, "color": "#22a884"}, {"offset": 0.7, "color": "#44bf70"},
            {"offset": 0.8, "color": "#7ad151"}, {"offset": 0.9, "color": "#bddf26"},
            {"offset": 1, "color": "#fde725"}
          ]
        }
      },
      "encoding": {
        "x": {"field": "from", "type": "quantitative",
              "scale": {"domain": [1930, 1975], "range": [122, 1442], "nice": false, "zero": false},
              "axis": {"values": [1930, 1935, 1940, 1945, 1950, 1955, 1960, 1965, 1970, 1975],
                       "format": "d", "grid": false, "domain": false, "tickSize": 5,
                       "labelFlush": false, "labelBound": false,
                       "labelFontSize": 17, "labelPadding": 4, "title": "Recording Year",
                       "titleX": 782, "titlePadding": 17, "titleFontSize": 23}},
        "x2": {"field": "to"}
      }
    }
  ]
}
